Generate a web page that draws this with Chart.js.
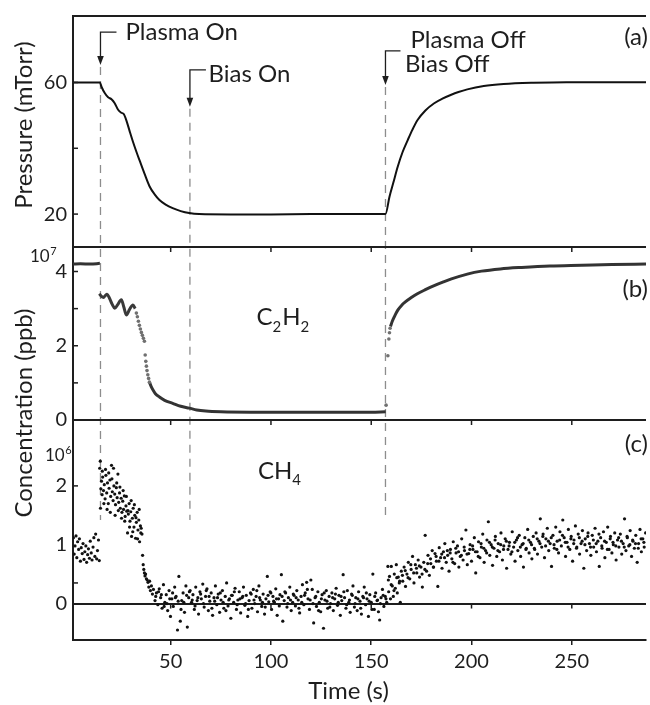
<!DOCTYPE html>
<html>
<head>
<meta charset="utf-8">
<script src="https://cdn.jsdelivr.net/npm/chart.js@4/dist/chart.umd.min.js"></script>
<style>
html,body{margin:0;padding:0;background:#fff;}
#wrap{position:relative;width:650px;height:705px;}
</style>
</head>
<body>
<div id="wrap"><canvas id="c" width="650" height="705"></canvas></div>
<script>
const FONT = 'Lato, "Open Sans", sans-serif';
const INK = '#1e1e1e';

// ---- axes ----
const timeTicks = [50, 100, 150, 200, 250];
const timeRange = [1.3, 287];
const pressTicks = [20, 60];
const pressMinor = [20, 40, 60];
const pressRange = [10, 80.2];
const c2h2Ticks = [0, 2, 4];
const c2h2Minor = [1, 2, 3, 4];
const c2h2Range = [0, 4.66];
const ch4Ticks = [0, 1, 2];
const ch4Minor = [0.35, 2];
const ch4Range = [-0.62, 3.12];

// ---- events ----
const eventTimes = [15, 59.6, 157.1];
const arrowTips = [65.3, 52.6, 59.2];   // pressure units
const arrowStubs = [75.3, 63.8, 69.6];  // pressure units
const dashEnd = 1.42;                   // CH4 units

// ---- (a) pressure, mTorr ----
const pressT = [1.3, 14.7, 15.5, 17.2, 18.8, 20.5, 22.1, 23.8, 25.4, 26.6, 27.9, 29.5, 31.2, 33, 34.5, 37, 39.5, 42, 44.4, 47.5, 51, 55, 59.2, 64.2, 80, 100, 120, 140, 157.1, 159.1, 161, 163.2, 165.6, 168.2, 170.5, 173.1, 177, 181.4, 185.5, 189.6, 193.5, 197.9, 206.1, 216, 230.9, 247.3, 287];
const pressV = [60, 60, 58.7, 56.7, 55.5, 54.9, 53.7, 51.7, 50.8, 50.4, 48.5, 45.3, 42.0, 38.8, 36.3, 32.2, 28.4, 26.0, 24.3, 22.9, 21.8, 20.9, 20.3, 20.0, 19.9, 19.9, 20.0, 20.0, 20.0, 25.3, 29.5, 34.4, 38.8, 42.5, 45.6, 48.6, 51.5, 53.7, 55.1, 56.2, 57.1, 57.9, 58.9, 59.5, 59.9, 60.1, 60.1];

// ---- (b) C2H2, x1e7 ppb ----
const c2h2FlatT = [1.3, 5, 10, 14.7];
const c2h2FlatV = [4.20, 4.21, 4.20, 4.22];
const c2h2WavyT = [14.4, 15.5, 16.5, 17.5, 18.3, 19.5, 20.8, 22.1, 23.5, 25.4, 26.6, 27.9, 29.5, 31.2, 32.3];
const c2h2WavyV = [3.40, 3.33, 3.30, 3.36, 3.39, 3.28, 3.12, 3.01, 3.10, 3.24, 3.05, 2.83, 2.98, 3.10, 3.00];
const c2h2DropT = [32.9, 33.4, 33.9, 34.4, 34.9, 35.4, 35.9, 36.4, 36.9, 37.3, 37.6, 37.9, 38.2, 38.6, 39.0, 39.4];
const c2h2DropV = [2.88, 2.78, 2.66, 2.55, 2.45, 2.36, 2.28, 2.20, 2.12, 1.75, 1.58, 1.45, 1.33, 1.22, 1.12, 1.02];
const c2h2TailT = [39.4, 40.3, 41.5, 42.5, 44.4, 47, 51, 55, 59.3, 63, 67.5, 75, 90, 110, 130, 150, 157.2];
const c2h2TailV = [1.02, 0.90, 0.78, 0.70, 0.62, 0.53, 0.45, 0.37, 0.32, 0.27, 0.24, 0.22, 0.21, 0.21, 0.21, 0.21, 0.22];
const c2h2JumpT = [157.4, 158.3, 158.8, 159.1, 159.4];
const c2h2JumpV = [0.40, 1.73, 2.18, 2.35, 2.47];
const c2h2RiseT = [159.6, 160.5, 161.5, 162.5, 163.5, 165, 167, 169.8, 173, 177, 181.4, 186, 190, 197.9, 205, 214.4, 225, 239.1, 255, 270, 287];
const c2h2RiseV = [2.52, 2.66, 2.78, 2.89, 2.98, 3.08, 3.18, 3.29, 3.40, 3.51, 3.62, 3.72, 3.80, 3.93, 4.01, 4.07, 4.11, 4.15, 4.17, 4.19, 4.20];

// ---- (c) CH4, x1e6 ppb ----
const ch4T1 = [1.5,1.9,2.3,2.8,3.2,3.6,4.1,4.5,5.0,5.4,5.9,6.3,6.8,7.2,7.7,8.1,8.6,9.0,9.5,9.9,10.4,10.8,11.3,11.7,12.2,12.6,13.1,13.5,14.0,14.4];
const ch4V1 = [1.12,0.84,0.98,1.15,0.78,1.05,0.92,1.10,0.72,0.95,0.85,1.02,0.75,0.88,0.98,0.70,0.83,0.93,0.77,1.06,0.86,0.74,0.96,1.12,0.80,1.18,0.76,0.90,1.08,0.73];
const ch4T2 = [14.6,14.9,15.2,15.5,15.8,16.1,16.5,16.9,17.3,17.7,
  18.1,18.5,18.9,19.3,19.7,20.1,20.5,20.9,21.3,21.7,
  22.1,22.5,22.9,23.3,23.7,24.1,24.5,24.9,25.3,25.7,
  26.1,26.5,26.9,27.3,27.7,28.1,28.5,28.9,29.3,29.7,
  30.1,30.5,30.9,31.3,31.7,32.1,32.5,32.9,33.3,33.7,
  34.1,34.5,34.9,35.3,35.7,36.0,36.3,36.6,36.9,37.2,
  37.5,37.9,38.3,38.7,39.1,39.5,39.9,40.4,40.9,41.4];
const ch4V2 = [2.30,2.42,1.95,2.08,1.85,2.15,1.92,2.02,1.78,2.18,
  1.88,2.05,1.70,1.96,2.10,1.82,2.35,1.90,1.75,2.00,
  1.86,1.68,1.97,1.80,2.20,1.72,1.88,1.62,1.79,1.55,
  1.74,1.60,1.83,1.48,1.66,1.57,1.20,1.52,1.70,1.40,
  1.56,1.14,1.45,1.62,1.30,1.50,1.11,1.38,1.55,1.25,
  1.42,1.05,1.32,1.28,1.18,0.82,0.66,0.58,0.52,0.47,
  0.50,0.42,0.40,0.36,0.28,0.38,0.22,0.30,0.16,0.24];
const ch4T2b = [15.0,15.9,16.7,17.5,18.3,19.1,19.9,20.7,21.5,22.3,23.1,23.9,24.7,25.5,26.3,27.1,27.9,28.7,29.5,30.3,31.1,31.9,32.7,33.5,34.3,35.1];
const ch4V2b = [1.62,2.25,1.70,2.28,1.60,2.22,1.55,2.12,2.30,1.50,2.05,1.58,1.98,1.45,1.92,1.40,1.82,1.58,1.30,1.75,1.22,1.68,1.46,1.10,1.60,1.20];
const ch4T3 = [42.2,42.9,43.6,44.3,45.0,45.7,46.4,47.1,47.8,48.5,
  49.2,49.9,50.6,51.3,52.0,52.7,53.4,54.1,54.8,55.5,
  56.2,56.9,57.6,58.3,59.0,59.7,60.4,61.1,61.8,62.5,
  63.2,63.9,64.6,65.3,66.0,66.7,67.4,68.1,68.8,69.5,
  70.2,70.9,71.6,72.3,73.0,73.7,74.4,75.1,75.8,76.5,
  77.2,77.9,78.6,79.3,80.0,80.7,81.4,82.1,82.8,83.5,
  84.2,84.9,85.6,86.3,87.0,87.7,88.4,89.1,89.8,90.5,
  91.2,91.9,92.6,93.3,94.0,94.7,95.4,96.1,96.8,97.5,
  98.2,98.9,99.6,100.3,101.0,101.7,102.4,103.1,103.8,104.5,
  105.2,105.9,106.6,107.3,108.0,108.7,109.4,110.1,110.8,111.5,
  112.2,112.9,113.6,114.3,115.0,115.7,116.4,117.1,117.8,118.5,
  119.2,119.9,120.6,121.3,122.0,122.7,123.4,124.1,124.8,125.5,
  126.2,126.9,127.6,128.3,129.0,129.7,130.4,131.1,131.8,132.5,
  133.2,133.9,134.6,135.3,136.0,136.7,137.4,138.1,138.8,139.5,
  140.2,140.9,141.6,142.3,143.0,143.7,144.4,145.1,145.8,146.5,
  147.2,147.9,148.6,149.3,150.0,150.8,151.5,152.2,152.9,153.6,
  154.2,154.9,155.6,156.3,157.0,157.7];
const ch4V3 = [0.05,0.18,-0.02,0.25,0.10,-0.08,0.32,0.02,0.15,-0.12,
  0.22,-0.22,0.08,-0.05,0.28,0.12,-0.45,0.46,-0.30,0.05,
  0.18,-0.15,0.30,-0.40,0.10,0.22,0.02,0.15,-0.10,0.28,
  0.05,-0.18,0.20,0.08,0.33,-0.06,0.12,0.25,-0.12,0.04,
  0.18,-0.20,0.10,0.30,-0.02,0.16,-0.15,0.06,0.22,-0.08,
  0.12,0.35,-0.04,0.08,-0.25,0.14,0.02,0.26,-0.10,0.06,
  0.20,-0.16,0.10,0.28,-0.03,0.14,-0.22,0.05,0.18,-0.08,
  0.24,0.00,0.12,-0.14,0.30,0.06,-0.05,0.16,-0.18,0.08,
  0.46,0.03,0.20,-0.10,0.12,0.02,0.25,-0.20,0.08,0.15,
  0.49,-0.30,0.05,0.18,-0.06,0.10,0.28,-0.12,0.02,0.14,
  -0.04,0.22,0.06,-0.16,0.12,0.32,-0.02,0.18,0.36,0.08,
  -0.10,0.40,0.24,-0.33,0.10,-0.05,0.20,0.02,-0.14,0.15,
  -0.42,0.06,0.22,-0.08,0.12,0.00,0.18,-0.12,0.08,0.26,
  -0.03,0.14,-0.20,0.05,0.49,0.10,-0.08,0.22,0.02,-0.15,
  0.16,0.30,-0.06,0.10,-0.12,0.20,0.04,-0.18,0.12,0.28,
  -0.02,0.08,-0.22,0.15,0.02,0.50,-0.10,0.18,0.05,-0.14,
  -0.28,0.10,0.24,-0.05,0.12,0.02];
const ch4T3b = [42.55,43.95,45.35,46.75,48.15,49.55,50.95,52.35,53.75,55.15,
  56.55,57.95,59.35,60.75,62.15,63.55,64.95,66.35,67.75,69.15,
  70.55,71.95,73.35,74.75,76.15,77.55,78.95,80.35,81.75,83.15,
  84.55,85.95,87.35,88.75,90.15,91.55,92.95,94.35,95.75,97.15,
  98.55,99.95,101.35,102.75,104.15,105.55,106.95,108.35,109.75,111.15,
  112.55,113.95,115.35,116.75,118.15,119.55,120.95,122.35,123.75,125.15,
  126.55,127.95,129.35,130.75,132.15,133.55,134.95,136.35,137.75,139.15,
  140.55,141.95,143.35,144.75,146.15,147.55,148.95,150.35,151.75,153.15,
  154.55,155.95,157.35];
const ch4V3b = [0.12,0.20,0.15,-0.05,0.00,0.08,0.18,0.10,0.04,-0.10,
  0.02,0.14,0.20,0.06,-0.04,0.10,0.16,0.00,0.22,0.12,
  -0.08,0.04,0.10,0.18,0.02,-0.12,0.06,0.14,0.20,-0.02,
  0.08,0.12,0.00,-0.10,0.16,0.06,0.22,0.10,0.02,-0.06,
  0.14,0.18,0.04,0.08,-0.04,0.12,0.20,0.00,0.06,0.16,
  0.10,-0.08,0.02,0.14,0.24,0.06,0.00,0.12,-0.12,0.08,
  0.18,0.04,-0.06,0.10,0.16,0.02,0.12,0.20,-0.02,0.06,
  0.14,0.00,0.08,-0.08,0.10,0.18,0.04,-0.10,0.12,0.06,
  0.00,0.14,0.08];
const ch4T4 = [158.3,158.7,159.1,159.6,160.0,160.5,161.0,161.5,162.0,162.5,
  163.0,163.5,164.0,164.5,165.0,165.7,166.4,167.1,167.8,168.5,
  169.2,169.9,170.6,171.3,172.0,172.7,173.4,174.1,174.8,175.5,
  176.2,176.9,177.6,178.3,179.0,179.7,180.4,181.1,181.8,182.5,
  183.2,183.9,184.6,185.3,186.0,186.7,187.4,188.1,188.8,189.5,
  190.2,190.9,191.6,192.3,193.0,193.7,194.4,195.1,195.8,196.5,
  197.2,197.9,198.6,199.3,200.0,200.7,201.4,202.1,202.8,203.5,
  204.2,204.9,205.6,206.3,207.0,207.7,208.4,209.1,209.8,210.5,
  211.2,211.9,212.6,213.3,214.0,214.7,215.4,216.1,216.8,217.5,
  218.2,218.9,219.6,220.3,221.0,221.7,222.4,223.1,223.8,224.5,
  225.2,225.9,226.6,227.3,228.0,228.7,229.4,230.1,230.8,231.5,
  232.2,232.9,233.6,234.3,235.0,235.7,236.4,237.1,237.8,238.5,
  239.2,239.9,240.6,241.3,242.0,242.7,243.4,244.1,244.8,245.5,
  246.2,246.9,247.6,248.3,249.0,249.7,250.4,251.1,251.8,252.5,
  253.2,253.9,254.6,255.3,256.0,256.7,257.4,258.1,258.8,259.5,
  260.2,260.9,261.6,262.3,263.0,263.7,264.4,265.1,265.8,266.5,
  267.2,267.9,268.6,269.3,270.0,270.7,271.4,272.1,272.8,273.5,
  274.2,274.9,275.6,276.3,277.0,277.7,278.4,279.1,279.8,280.5,
  281.2,281.9,282.6,283.3,284.0,284.7,285.4,286.1,286.8];
const ch4V4 = [0.63,0.20,0.46,0.08,0.63,0.30,0.12,0.50,0.26,0.66,
  0.18,0.45,0.35,0.02,0.55,0.38,0.62,0.29,0.50,0.70,
  0.42,0.58,0.80,0.35,0.66,0.52,0.74,0.45,0.62,0.28,
  0.70,1.16,0.55,0.82,0.48,0.68,0.90,0.62,0.85,0.72,
  0.29,0.95,0.78,0.60,0.88,1.02,0.70,0.82,0.55,0.92,
  0.76,1.05,0.68,0.86,0.98,0.62,0.80,1.10,0.74,0.90,
  1.25,0.66,0.85,1.00,0.72,0.92,1.12,0.52,0.88,1.05,
  0.78,0.96,1.18,0.70,0.90,1.08,1.39,0.82,1.00,0.65,
  0.94,1.14,0.80,1.02,0.88,1.20,0.74,0.98,1.10,0.60,
  0.92,1.04,0.84,1.22,0.96,0.72,1.08,0.90,1.16,0.80,
  1.00,0.62,1.12,0.94,1.26,0.86,1.04,0.76,1.14,0.92,
  1.20,0.84,1.06,1.44,0.96,1.18,0.78,1.10,1.28,0.90,
  1.02,0.63,1.16,0.94,1.30,1.06,0.86,1.22,0.98,1.42,
  1.12,0.80,1.04,1.26,0.92,1.14,0.72,1.08,1.32,0.96,
  1.18,0.84,1.02,1.24,0.60,1.10,0.90,1.20,1.02,0.82,
  1.16,0.96,1.28,0.88,1.06,0.63,1.12,0.94,1.22,0.78,
  1.04,1.30,0.92,1.14,0.86,1.00,1.20,0.74,1.08,0.96,
  1.18,0.84,1.02,1.44,0.90,1.12,0.98,1.24,0.80,1.06,
  0.94,1.16,0.70,1.02,1.26,0.88,1.10,0.96,1.20];
const ch4T4b = [158.55,159.95,161.35,162.75,164.15,165.55,166.95,168.35,169.75,171.15,
  172.55,173.95,175.35,176.75,178.15,179.55,180.95,182.35,183.75,185.15,
  186.55,187.95,189.35,190.75,192.15,193.55,194.95,196.35,197.75,199.15,
  200.55,201.95,203.35,204.75,206.15,207.55,208.95,210.35,211.75,213.15,
  214.55,215.95,217.35,218.75,220.15,221.55,222.95,224.35,225.75,227.15,
  228.55,229.95,231.35,232.75,234.15,235.55,236.95,238.35,239.75,241.15,
  242.55,243.95,245.35,246.75,248.15,249.55,250.95,252.35,253.75,255.15,
  256.55,257.95,259.35,260.75,262.15,263.55,264.95,266.35,267.75,269.15,
  270.55,271.95,273.35,274.75,276.15,277.55,278.95,280.35,281.75,283.15,
  284.55,285.95];
const ch4V4b = [0.40,0.32,0.22,0.44,0.38,0.48,0.56,0.44,0.66,0.52,
  0.60,0.64,0.50,0.58,0.68,0.76,0.62,0.80,0.72,0.84,
  0.78,0.90,0.86,0.70,0.94,0.88,0.82,0.96,0.84,0.92,
  0.98,0.88,0.80,1.02,0.94,0.86,1.04,0.96,1.08,0.90,
  1.00,0.92,1.06,0.98,0.88,1.04,1.12,0.96,1.02,0.92,
  1.08,1.00,0.94,1.10,1.02,1.14,0.98,1.06,1.12,1.00,
  0.92,1.08,1.16,1.04,0.96,1.10,1.02,0.94,1.12,1.06,
  1.00,1.14,0.96,1.08,1.02,1.18,0.98,1.06,0.92,1.10,
  1.04,0.98,1.12,1.06,0.96,1.14,1.00,1.08,1.02,0.94,
  1.10,1.04];

// ---- helpers ----
const toXY = (T, V) => T.slice(0, Math.min(T.length, V.length)).map((t, i) => ({x: t, y: V[i]}));
const lineSet = (T, V, axis, color, width) => ({
  data: toXY(T, V), yAxisID: axis, showLine: true, pointRadius: 0,
  borderColor: color, borderWidth: width, cubicInterpolationMode: 'monotone', fill: false
});
const dotSet = (T, V, axis, fillC, r) => ({
  data: toXY(T, V), yAxisID: axis, showLine: false, pointRadius: r,
  pointBackgroundColor: fillC, pointBorderColor: fillC, pointBorderWidth: 0
});

function yAxis(range, ticks, weight, grid) {
  return {
    type: 'linear', position: 'left', stack: 'panels', stackWeight: weight,
    min: range[0], max: range[1],
    afterBuildTicks: s => { s.ticks = ticks.map(v => ({value: v})); },
    afterFit: s => { s.width = 73; s.paddingTop = 0; s.paddingBottom = 0; },
    grid: grid || {display: false, drawTicks: false},
    border: {display: true, color: INK, width: 2},
    ticks: {padding: 6, color: INK, font: {family: FONT, size: 20}, autoSkip: false}
  };
}

const decor = {
  id: 'decor',
  beforeDatasetsDraw(chart) {
    const {ctx, scales: {x, yA, yC}} = chart;
    ctx.save();
    ctx.strokeStyle = '#8d8d8d';
    ctx.lineWidth = 1.3;
    ctx.setLineDash([8, 6]);
    eventTimes.forEach((t, i) => {
      const px = x.getPixelForValue(t);
      ctx.beginPath();
      ctx.moveTo(px, yA.getPixelForValue(arrowTips[i]) + 2);
      ctx.lineTo(px, yC.getPixelForValue(dashEnd));
      ctx.stroke();
    });
    ctx.restore();
  },
  afterDraw(chart) {
    const {ctx, chartArea: {left, right}, scales: {x, yA, yB, yC}} = chart;
    ctx.save();
    ctx.strokeStyle = INK;
    ctx.fillStyle = INK;
    ctx.lineWidth = 2;
    [yA.top, yB.top, yC.top].forEach(y => {
      ctx.beginPath(); ctx.moveTo(left - 1, y); ctx.lineTo(right, y); ctx.stroke();
    });
    ctx.lineWidth = 1.5;
    const yt = (scale, vals) => vals.forEach(v => {
      const py = scale.getPixelForValue(v);
      ctx.beginPath(); ctx.moveTo(left, py); ctx.lineTo(left + 5, py); ctx.stroke();
    });
    yt(yA, pressMinor); yt(yB, c2h2Minor); yt(yC, ch4Minor);
    [yA.bottom, yB.bottom, yC.getPixelForValue(0)].forEach(y => {
      timeTicks.forEach(t => {
        const px = x.getPixelForValue(t);
        ctx.beginPath(); ctx.moveTo(px, y); ctx.lineTo(px, y + 5); ctx.stroke();
      });
    });
    ctx.lineWidth = 1.3;
    const stubLen = [16, 16, 15];
    eventTimes.forEach((t, i) => {
      const px = x.getPixelForValue(t);
      const ys = yA.getPixelForValue(arrowStubs[i]);
      const ytip = yA.getPixelForValue(arrowTips[i]);
      ctx.beginPath();
      ctx.moveTo(px + stubLen[i], ys); ctx.lineTo(px, ys); ctx.lineTo(px, ytip - 7);
      ctx.stroke();
      ctx.beginPath();
      ctx.moveTo(px - 3.3, ytip - 9); ctx.lineTo(px + 3.3, ytip - 9); ctx.lineTo(px, ytip);
      ctx.closePath(); ctx.fill();
    });
    const ev = eventTimes.map(t => x.getPixelForValue(t));
    ctx.textBaseline = 'alphabetic';
    ctx.textAlign = 'left';
    ctx.font = '24px ' + FONT;
    ctx.fillText('Plasma On', ev[0] + 25, 40);
    ctx.fillText('Bias On', ev[1] + 18.5, 81.5);
    ctx.fillText('Plasma Off', ev[2] + 25, 48);
    ctx.fillText('Bias Off', ev[2] + 19.5, 71.5);
    ctx.textAlign = 'right';
    ctx.fillText('(a)', 648, 45);
    ctx.fillText('(b)', 648, 296.5);
    ctx.fillText('(c)', 648, 451.5);
    ctx.textAlign = 'left';
    const chem = (parts, x0, base) => {
      let cx = x0;
      parts.forEach(([txt, sub]) => {
        ctx.font = (sub ? '15px ' : '24px ') + FONT;
        ctx.fillText(txt, cx, sub ? base + 6.5 : base);
        cx += ctx.measureText(txt).width + (sub ? 1 : 0);
      });
    };
    chem([['C', 0], ['2', 1], ['H', 0], ['2', 1]], 256.5, 325);
    chem([['C', 0], ['H', 0], ['4', 1]], 258, 478.5);
    const mult = (exp, x0, base) => {
      ctx.font = '17px ' + FONT;
      ctx.fillText('10', x0, base);
      const w = ctx.measureText('10').width;
      ctx.font = '11px ' + FONT;
      ctx.fillText(exp, x0 + w + 0.5, base - 7);
    };
    mult('7', 30, 261.5);
    mult('6', 45, 461);
    ctx.font = '24px ' + FONT;
    ctx.textAlign = 'center';
    ctx.fillText('Time (s)', 348.5, 699);
    const vtitle = (txt, cx, cy) => {
      ctx.save(); ctx.translate(cx, cy); ctx.rotate(-Math.PI / 2);
      ctx.fillText(txt, 0, 0); ctx.restore();
    };
    vtitle('Pressure (mTorr)', 31.5, 125);
    vtitle('Concentration (ppb)', 31.5, 413);
    ctx.restore();
  }
};

new Chart(document.getElementById('c'), {
  type: 'scatter',
  data: {
    datasets: [
      lineSet(pressT, pressV, 'yA', '#111', 2),
      lineSet(c2h2FlatT, c2h2FlatV, 'yB', '#333', 3),
      lineSet(c2h2WavyT, c2h2WavyV, 'yB', '#3a3a3a', 3),
      dotSet(c2h2DropT, c2h2DropV, 'yB', '#707070', 1.8),
      lineSet(c2h2TailT, c2h2TailV, 'yB', '#333', 3),
      dotSet(c2h2JumpT, c2h2JumpV, 'yB', '#707070', 1.8),
      lineSet(c2h2RiseT, c2h2RiseV, 'yB', '#333', 3),
      dotSet(ch4T1, ch4V1, 'yC', '#111', 1.6),
      dotSet(ch4T2, ch4V2, 'yC', '#111', 1.6),
      dotSet(ch4T2b, ch4V2b, 'yC', '#111', 1.6),
      dotSet(ch4T3, ch4V3, 'yC', '#111', 1.6),
      dotSet(ch4T3b, ch4V3b, 'yC', '#111', 1.6),
      dotSet(ch4T4, ch4V4, 'yC', '#111', 1.6),
      dotSet(ch4T4b, ch4V4b, 'yC', '#111', 1.6)
    ]
  },
  options: {
    responsive: false,
    animation: false,
    devicePixelRatio: 1,
    events: [],
    layout: {padding: {top: 16, left: 0, right: 0, bottom: 0}},
    plugins: {legend: {display: false}, tooltip: {enabled: false}},
    scales: {
      x: {
        type: 'linear', position: 'bottom', min: timeRange[0], max: timeRange[1],
        afterBuildTicks: s => { s.ticks = timeTicks.map(v => ({value: v})); },
        afterFit: s => { s.height = 65; s.paddingLeft = 0; s.paddingRight = 0; },
        grid: {display: true, drawOnChartArea: false, drawTicks: true, tickLength: 5, color: INK, lineWidth: 1.5},
        border: {display: true, color: INK, width: 2},
        ticks: {padding: 5, color: INK, font: {family: FONT, size: 20}, maxRotation: 0, autoSkip: false}
      },
      yC: yAxis(ch4Range, ch4Ticks, 220, {
        display: true, drawOnChartArea: true, drawTicks: false, lineWidth: 2,
        color: c => (c.tick && c.tick.value === 0) ? INK : 'rgba(0,0,0,0)'
      }),
      yB: yAxis(c2h2Range, c2h2Ticks, 173),
      yA: yAxis(pressRange, pressTicks, 231)
    }
  },
  plugins: [decor]
});
</script>
</body>
</html>
